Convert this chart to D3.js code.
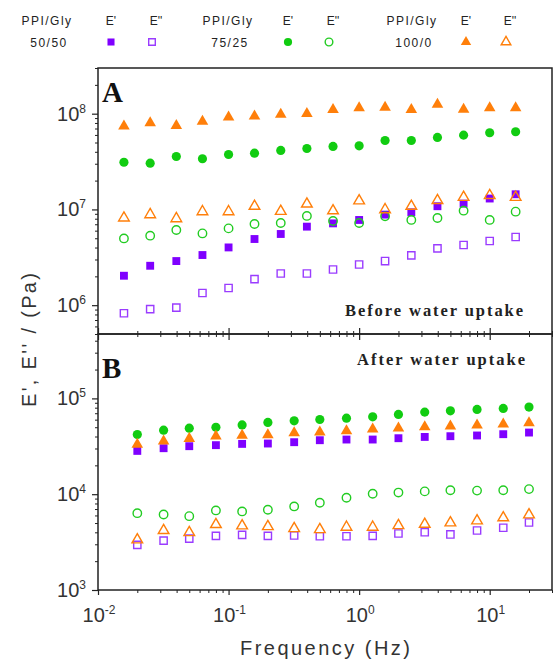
<!DOCTYPE html>
<html>
<head>
<meta charset="utf-8">
<script src="https://cdn.jsdelivr.net/npm/d3@7"></script>
<style>
    body { margin: 0; background: #fff; }
    svg { display: block; }
    text { fill: #222; }
</style>
</head>
<body>
<svg id="chart" width="556" height="664"></svg>
<script>
// ========== Data ==========

// frequencies (Hz) for the two panels
const freqA = [0.0158, 0.0251, 0.0398, 0.0631, 0.1, 0.158, 0.251, 0.398, 0.631, 1, 1.58, 2.51, 3.98, 6.31, 10, 15.8];
const freqB = [0.02, 0.0318, 0.05, 0.08, 0.127, 0.2, 0.318, 0.5, 0.8, 1.27, 2, 3.18, 5, 8, 12.7, 20];

// panel A: before water uptake (Pa)
const a5050Storage = [2.03e6, 2.58e6, 2.89e6, 3.34e6, 4.01e6, 4.91e6, 5.54e6, 6.61e6, 7.15e6, 7.76e6, 8.83e6, 9.33e6, 1.08e7, 1.15e7, 1.30e7, 1.44e7];
const a5050Loss    = [8.24e5, 9.08e5, 9.44e5, 1.34e6, 1.51e6, 1.87e6, 2.14e6, 2.14e6, 2.36e6, 2.66e6, 2.89e6, 3.31e6, 3.92e6, 4.25e6, 4.68e6, 5.15e6];
const a7525Storage = [3.11e7, 3.04e7, 3.57e7, 3.38e7, 3.75e7, 3.87e7, 4.13e7, 4.33e7, 4.55e7, 4.62e7, 5.25e7, 5.25e7, 5.65e7, 5.97e7, 6.32e7, 6.48e7];
const a7525Loss    = [4.98e6, 5.32e6, 6.10e6, 5.62e6, 6.34e6, 7.05e6, 7.22e6, 8.55e6, 7.58e6, 7.22e6, 8.47e6, 7.77e6, 8.14e6, 9.70e6, 7.77e6, 9.48e6];
const a1000Storage = [7.4e7, 8.0e7, 7.5e7, 8.3e7, 9.2e7, 9.4e7, 9.8e7, 1.0e8, 1.10e8, 1.15e8, 1.16e8, 1.10e8, 1.25e8, 1.11e8, 1.15e8, 1.15e8];
const a1000Loss    = [8.15e6, 8.83e6, 8.02e6, 9.48e6, 9.48e6, 1.08e7, 9.55e6, 1.14e7, 9.70e6, 1.23e7, 9.95e6, 1.08e7, 1.24e7, 1.34e7, 1.40e7, 1.34e7];

// panel B: after water uptake (Pa)
const b5050Storage = [2.83e4, 3.02e4, 3.17e4, 3.25e4, 3.35e4, 3.38e4, 3.49e4, 3.66e4, 3.72e4, 3.72e4, 3.84e4, 3.96e4, 4.03e4, 4.10e4, 4.23e4, 4.40e4];
const b5050Loss    = [2.96e3, 3.28e3, 3.44e3, 3.67e3, 3.76e3, 3.67e3, 3.71e3, 3.64e3, 3.64e3, 3.67e3, 3.89e3, 4.01e3, 3.80e3, 4.18e3, 4.46e3, 5.07e3];
const b7525Storage = [4.20e4, 4.66e4, 4.89e4, 5.00e4, 5.29e4, 5.61e4, 5.83e4, 6.02e4, 6.22e4, 6.42e4, 6.80e4, 7.19e4, 7.42e4, 7.67e4, 7.86e4, 8.11e4];
const b7525Loss    = [6.34e3, 6.14e3, 5.90e3, 6.77e3, 6.61e3, 6.88e3, 7.45e3, 8.15e3, 9.19e3, 1.01e4, 1.04e4, 1.07e4, 1.10e4, 1.09e4, 1.10e4, 1.13e4];
const b1000Storage = [3.30e4, 3.57e4, 3.81e4, 4.03e4, 4.10e4, 4.16e4, 4.36e4, 4.44e4, 4.58e4, 4.77e4, 4.89e4, 5.04e4, 5.13e4, 5.26e4, 5.38e4, 5.56e4];
const b1000Loss    = [3.34e3, 4.18e3, 3.98e3, 4.83e3, 4.68e3, 4.60e3, 4.38e3, 4.28e3, 4.53e3, 4.53e3, 4.71e3, 4.86e3, 5.03e3, 5.28e3, 5.68e3, 6.10e3];

const blends = ["50/50", "75/25", "100/0"];

// axis ticks (exponents of 10)
const xMajorTicks = [-2, -1, 0, 1];
const yMajorTicksA = [6, 7, 8];
const yMajorTicksB = [3, 4, 5];

// ========== Setup ==========

const colors = { "50/50": "#7f00ff", "75/25": "#11cc11", "100/0": "#ff7f0a" };
const openColors = { "50/50": "#9a3cff", "75/25": "#22cc22", "100/0": "#ff7f0a" };
const shapes = { "50/50": d3.symbolSquare, "75/25": d3.symbolCircle, "100/0": d3.symbolTriangle };
const sizes = { "50/50": 62, "75/25": 66, "100/0": 58 };

const svg = d3.select("#chart");
const left = 98, right = 552;

const x = d3.scaleLog().domain([0.01, 30]).range([left, right]);
const yA = d3.scaleLog().domain([5e5, 3e8]).range([334, 68]);
const yB = d3.scaleLog().domain([1e3, 4.7e5]).range([590, 334]);

const seriesA = [
    { blend: "50/50", filled: true, values: a5050Storage },
    { blend: "50/50", filled: false, values: a5050Loss },
    { blend: "75/25", filled: true, values: a7525Storage },
    { blend: "75/25", filled: false, values: a7525Loss },
    { blend: "100/0", filled: true, values: a1000Storage },
    { blend: "100/0", filled: false, values: a1000Loss },
];
const seriesB = [
    { blend: "50/50", filled: true, values: b5050Storage },
    { blend: "50/50", filled: false, values: b5050Loss },
    { blend: "75/25", filled: true, values: b7525Storage },
    { blend: "75/25", filled: false, values: b7525Loss },
    { blend: "100/0", filled: true, values: b1000Storage },
    { blend: "100/0", filled: false, values: b1000Loss },
];

function minorTicks(scale) {
    return scale.ticks().filter(v => Math.abs(Math.log10(v) - Math.round(Math.log10(v))) > 1e-6);
}

function symbolPath(blend, filled) {
    const size = filled ? sizes[blend] : sizes[blend] * 0.85;
    return d3.symbol().type(shapes[blend]).size(size)();
}

function styleMarker(sel, blend, filled) {
    if (filled) {
        sel.attr("fill", colors[blend]).attr("stroke", "none");
    } else {
        sel.attr("fill", "none").attr("stroke", openColors[blend]).attr("stroke-width", 1.4);
    }
}

function powerLabel(g, px, py, exp, anchor) {
    const t = g.append("text")
        .attr("x", px)
        .attr("y", py)
        .attr("text-anchor", anchor)
        .style("font-family", "'Liberation Sans', Arial, sans-serif")
        .style("font-size", "20px")
        .style("fill", "#333");
    t.append("tspan").text("10");
    t.append("tspan").attr("dy", -8).style("font-size", "12px").text(exp);
}

// ========== Panels ==========

function drawPanel(y, series, majorExps, top, bottom, letter, note, noteY, noteX, noteLen) {
    const g = svg.append("g");

    // left axis: major + minor ticks, outward
    const majorVals = majorExps.map(e => Math.pow(10, e));
    g.append("g")
        .attr("transform", `translate(${left},0)`)
        .call(d3.axisLeft(y).tickValues(majorVals).tickSize(6).tickFormat(""))
        .call(a => a.select(".domain").remove())
        .selectAll("line").attr("stroke", "#222").attr("stroke-width", 1.2);
    g.append("g")
        .attr("transform", `translate(${left},0)`)
        .call(d3.axisLeft(y).tickValues(minorTicks(y)).tickSize(3).tickFormat(""))
        .call(a => a.select(".domain").remove())
        .selectAll("line").attr("stroke", "#222").attr("stroke-width", 1);

    majorExps.forEach(e => powerLabel(g, 86, y(Math.pow(10, e)) + 7, e, "end"));

    // markers
    series.forEach(s => {
        const freq = y === yA ? freqA : freqB;
        g.append("g")
            .selectAll("path")
            .data(s.values)
            .join("path")
            .attr("transform", (d, i) => `translate(${x(freq[i])},${y(d)})`)
            .attr("d", symbolPath(s.blend, s.filled))
            .call(sel => styleMarker(sel, s.blend, s.filled));
    });

    // frame
    g.append("rect")
        .attr("x", left)
        .attr("y", top)
        .attr("width", right - left)
        .attr("height", bottom - top)
        .attr("fill", "none")
        .attr("stroke", "#222")
        .attr("stroke-width", 1.5);

    g.append("text")
        .attr("x", 102)
        .attr("y", letter === "A" ? 102 : 378)
        .style("font-family", "'Liberation Serif', 'Times New Roman', serif")
        .style("font-weight", "bold")
        .style("font-size", "29px")
        .style("fill", "#111")
        .text(letter);

    g.append("text")
        .attr("x", noteX)
        .attr("y", noteY)
        .attr("textLength", noteLen)
        .attr("lengthAdjust", "spacing")
        .style("font-family", "'Liberation Serif', 'Times New Roman', serif")
        .style("font-weight", "bold")
        .style("font-size", "16.5px")
        .style("fill", "#222")
        .text(note);
}

drawPanel(yA, seriesA, yMajorTicksA, 68, 334, "A", "Before water uptake", 316, 345, 178);
drawPanel(yB, seriesB, yMajorTicksB, 334, 590, "B", "After water uptake", 365, 357, 168);

// ========== X axes ==========

const xMajorVals = xMajorTicks.map(e => Math.pow(10, e));
const xMinorVals = minorTicks(x);

function xTicks(yPos, axisFn, majorSize, minorSize) {
    svg.append("g")
        .attr("transform", `translate(0,${yPos})`)
        .call(axisFn(x).tickValues(xMajorVals).tickSize(majorSize).tickFormat(""))
        .call(a => a.select(".domain").remove())
        .selectAll("line").attr("stroke", "#222").attr("stroke-width", 1.2);
    svg.append("g")
        .attr("transform", `translate(0,${yPos})`)
        .call(axisFn(x).tickValues(xMinorVals).tickSize(minorSize).tickFormat(""))
        .call(a => a.select(".domain").remove())
        .selectAll("line").attr("stroke", "#222").attr("stroke-width", 1);
}

// shared line between the panels: ticks cross it
xTicks(334, d3.axisTop, 6, 3);
xTicks(334, d3.axisBottom, 6, 3);
// bottom axis
xTicks(590, d3.axisBottom, 5, 3);

const xl = svg.append("g");
xMajorTicks.forEach(e => powerLabel(xl, x(Math.pow(10, e)) + 1, 622, e, "middle"));

// ========== Titles ==========

svg.append("text")
    .attr("x", 325)
    .attr("y", 655)
    .attr("text-anchor", "middle")
    .attr("textLength", 170)
    .attr("lengthAdjust", "spacing")
    .style("font-family", "'Liberation Sans', Arial, sans-serif")
    .style("font-size", "20px")
    .style("fill", "#333")
    .text("Frequency (Hz)");

svg.append("text")
    .attr("transform", "translate(36,340) rotate(-90)")
    .attr("text-anchor", "middle")
    .attr("textLength", 134)
    .attr("lengthAdjust", "spacing")
    .style("font-family", "'Liberation Sans', Arial, sans-serif")
    .style("font-size", "20px")
    .style("fill", "#333")
    .text("E', E'' / (Pa)");

// ========== Legend ==========

const legendGroups = [
    { blend: blends[0], labelX: 47, storageX: 111, lossX: 152 },
    { blend: blends[1], labelX: 228, storageX: 288, lossX: 329 },
    { blend: blends[2], labelX: 412, storageX: 466, lossX: 506 },
];

const legend = svg.append("g")
    .style("font-family", "'Liberation Sans', Arial, sans-serif")
    .style("font-size", "12px");

legendGroups.forEach(lg => {
    legend.append("text").attr("x", lg.labelX).attr("y", 25).attr("text-anchor", "middle")
        .style("letter-spacing", "1.5px").text("PPI/Gly");
    legend.append("text").attr("x", lg.labelX + 2).attr("y", 46.5).attr("text-anchor", "middle")
        .style("letter-spacing", "1.5px").text(lg.blend);
    legend.append("text").attr("x", lg.storageX).attr("y", 25).attr("text-anchor", "middle").text("E'");
    legend.append("text").attr("x", lg.lossX + 4).attr("y", 25).attr("text-anchor", "middle").text("E''");

    legend.append("path")
        .attr("transform", `translate(${lg.storageX},42)`)
        .attr("d", d3.symbol().type(shapes[lg.blend]).size(sizes[lg.blend] * 0.8)())
        .call(sel => styleMarker(sel, lg.blend, true));
    legend.append("path")
        .attr("transform", `translate(${lg.lossX},42)`)
        .attr("d", d3.symbol().type(shapes[lg.blend]).size(sizes[lg.blend] * 0.7)())
        .call(sel => styleMarker(sel, lg.blend, false));
});
</script>
</body>
</html>
